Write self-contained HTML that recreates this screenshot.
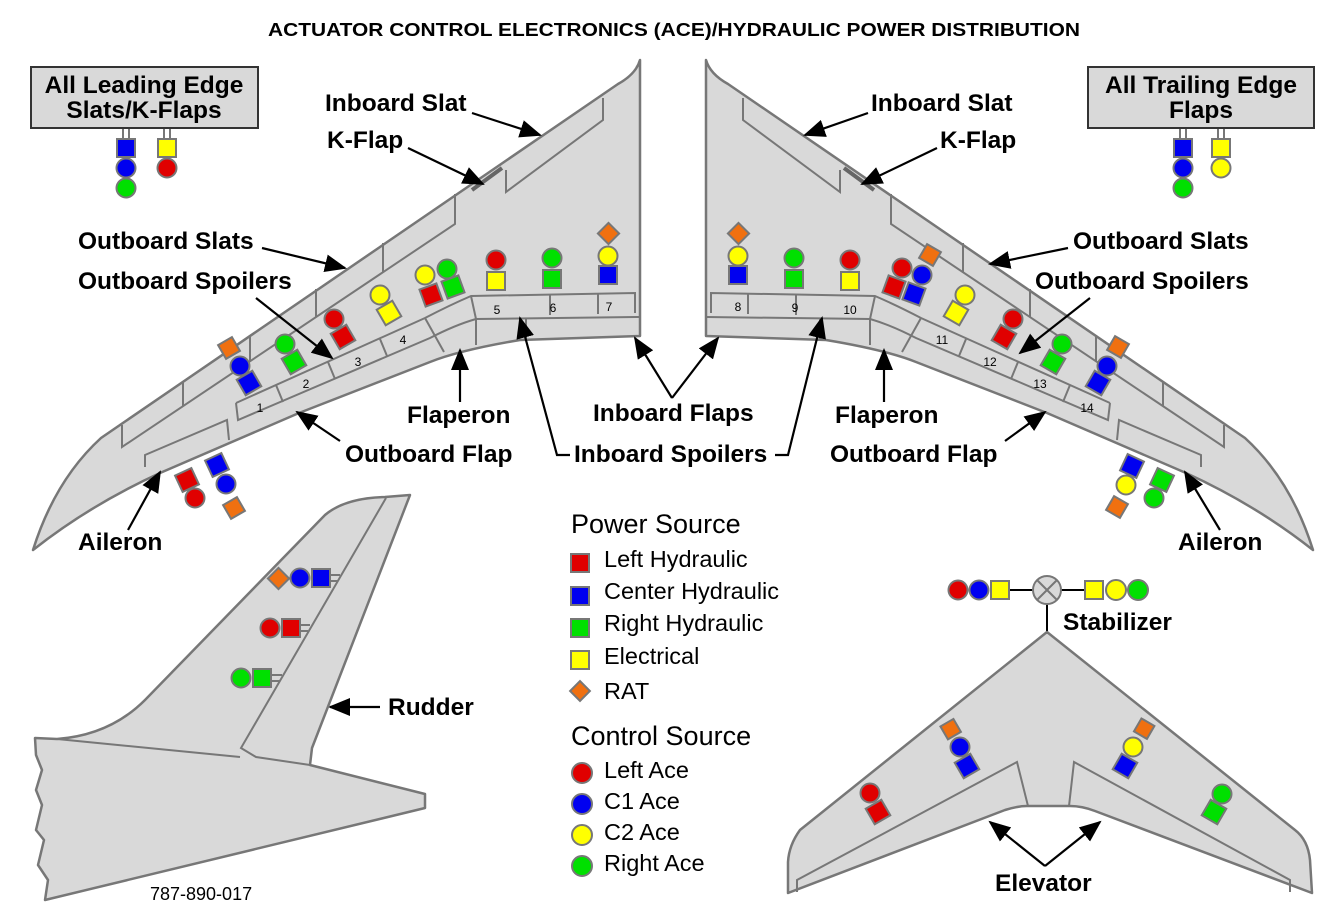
<!DOCTYPE html>
<html><head><meta charset="utf-8"><style>
html,body{margin:0;padding:0;background:#fff}
svg{display:block}
text{font-family:"Liberation Sans",Arial,sans-serif}
.b{font-weight:bold;font-size:24.5px}
.w{fill:#d9d9d9;stroke:#777;stroke-width:2.5;stroke-linejoin:round}
.l{fill:none;stroke:#777;stroke-width:2}
.s rect,.s circle{stroke:#777;stroke-width:2}
.a{stroke:#000;stroke-width:2.2;fill:none}
.n{font-size:12px}
</style></head><body>
<svg width="1334" height="915" viewBox="0 0 1334 915" xmlns="http://www.w3.org/2000/svg">
<defs>
<marker id="ah" markerWidth="22" markerHeight="18" refX="20" refY="9" orient="auto" markerUnits="userSpaceOnUse"><path d="M0,0 L22,9 L0,18 z" fill="#000"/></marker>
<g id="wing">
<path class="w" d="M640,60 Q636,74 618,84 L101,438 Q55,480 33,550 Q90,505 160,473 L299,413 L430,362 Q460,350 520,340 L640,336 Z"/>
<path class="l" d="M603,98 L603,120 L506,192 L506,170"/>
<path d="M472,190 L502,168" stroke="#666" stroke-width="4"/>
<path class="l" d="M455,194 L455,224 L122,447 L122,425"/>
<path class="l" d="M383,243 L383,272 M316,289 L316,317 M250,335 L250,361 M183,381 L183,406"/>
<path class="l" d="M236,403 L425,318 Q450,305 471,296 L635,293 L635,313"/>
<path class="l" d="M236,403 L238,420 L430,338 Q455,325 476,319 L640,317"/>
<path class="l" d="M471,296 L476,319 L476,345 M550,294 L550,315 M598,293 L598,314 M526,318 L526,340"/>
<path class="l" d="M425,318 L444,352 M276,385 L283,402 M328,362 L335,379 M380,339 L387,356"/>
<path class="l" d="M145,467 L145,455 L227,420 L229,440"/>
</g>
</defs>

<text x="268" y="36" textLength="812" lengthAdjust="spacingAndGlyphs" font-weight="bold" font-size="18">ACTUATOR CONTROL ELECTRONICS (ACE)/HYDRAULIC POWER DISTRIBUTION</text>

<use href="#wing"/>
<use href="#wing" transform="translate(1346,0) scale(-1,1)"/>

<g class="n" text-anchor="middle">
<text x="260" y="412">1</text><text x="306" y="388">2</text><text x="358" y="366">3</text><text x="403" y="344">4</text>
<text x="497" y="314">5</text><text x="553" y="312">6</text><text x="609" y="311">7</text>
<text x="738" y="311">8</text><text x="795" y="312">9</text><text x="850" y="314">10</text>
<text x="942" y="344">11</text><text x="990" y="366">12</text><text x="1040" y="388">13</text><text x="1087" y="412">14</text>
</g>

<rect x="31" y="67" width="227" height="61" fill="#d9d9d9" stroke="#333" stroke-width="2"/>
<text class="b" x="144" y="93" text-anchor="middle">All Leading Edge</text>
<text class="b" x="144" y="118" text-anchor="middle">Slats/K-Flaps</text>
<rect x="1088" y="67" width="226" height="61" fill="#d9d9d9" stroke="#333" stroke-width="2"/>
<text class="b" x="1201" y="93" text-anchor="middle">All Trailing Edge</text>
<text class="b" x="1201" y="118" text-anchor="middle">Flaps</text>
<path class="l" d="M123,129 V139 M129,129 V139 M164,129 V139 M170,129 V139 M1180,129 V139 M1186,129 V139 M1218,129 V139 M1224,129 V139" stroke-width="1.5"/>

<g class="s">
<rect x="117" y="139" width="18" height="18" fill="#0000f0"/><circle cx="126" cy="168" r="9.5" fill="#0000f0"/><circle cx="126" cy="188" r="9.5" fill="#00e000"/>
<rect x="158" y="139" width="18" height="18" fill="#ffff00"/><circle cx="167" cy="168" r="9.5" fill="#e00000"/>
<rect x="1174" y="139" width="18" height="18" fill="#0000f0"/><circle cx="1183" cy="168" r="9.5" fill="#0000f0"/><circle cx="1183" cy="188" r="9.5" fill="#00e000"/>
<rect x="1212" y="139" width="18" height="18" fill="#ffff00"/><circle cx="1221" cy="168" r="9.5" fill="#ffff00"/>

<rect x="221" y="340" width="16" height="16" fill="#f07010" transform="rotate(-30 229 348)"/>
<circle cx="240" cy="366" r="9.5" fill="#0000f0"/>
<rect x="240" y="374" width="18" height="18" fill="#0000f0" transform="rotate(-30 249 383)"/>
<circle cx="285" cy="344" r="9.5" fill="#00e000"/>
<rect x="285" y="353" width="18" height="18" fill="#00e000" transform="rotate(-30 294 362)"/>
<circle cx="334" cy="319" r="9.5" fill="#e00000"/>
<rect x="334" y="328" width="18" height="18" fill="#e00000" transform="rotate(-30 343 337)"/>
<circle cx="380" cy="295" r="9.5" fill="#ffff00"/>
<rect x="380" y="304" width="18" height="18" fill="#ffff00" transform="rotate(-30 389 313)"/>
<circle cx="425" cy="275" r="9.5" fill="#ffff00"/>
<rect x="422" y="286" width="18" height="18" fill="#e00000" transform="rotate(-20 431 295)"/>
<circle cx="447" cy="269" r="9.5" fill="#00e000"/>
<rect x="444" y="278" width="18" height="18" fill="#00e000" transform="rotate(-20 453 287)"/>
<circle cx="496" cy="260" r="9.5" fill="#e00000"/><rect x="487" y="272" width="18" height="18" fill="#ffff00"/>
<circle cx="552" cy="258" r="9.5" fill="#00e000"/><rect x="543" y="270" width="18" height="18" fill="#00e000"/>
<rect x="601" y="226" width="15" height="15" fill="#f07010" transform="rotate(45 608.5 233.5)"/>
<circle cx="608" cy="256" r="9.5" fill="#ffff00"/><rect x="599" y="266" width="18" height="18" fill="#0000f0"/>
<rect x="178" y="471" width="18" height="18" fill="#e00000" transform="rotate(-25 187 480)"/><circle cx="195" cy="498" r="9.5" fill="#e00000"/>
<rect x="208" y="456" width="18" height="18" fill="#0000f0" transform="rotate(-25 217 465)"/><circle cx="226" cy="484" r="9.5" fill="#0000f0"/>
<rect x="226" y="500" width="16" height="16" fill="#f07010" transform="rotate(-30 234 508)"/>

<rect x="731" y="226" width="15" height="15" fill="#f07010" transform="rotate(45 738.5 233.5)"/>
<circle cx="738" cy="256" r="9.5" fill="#ffff00"/><rect x="729" y="266" width="18" height="18" fill="#0000f0"/>
<circle cx="794" cy="258" r="9.5" fill="#00e000"/><rect x="785" y="270" width="18" height="18" fill="#00e000"/>
<circle cx="850" cy="260" r="9.5" fill="#e00000"/><rect x="841" y="272" width="18" height="18" fill="#ffff00"/>
<circle cx="902" cy="268" r="9.5" fill="#e00000"/>
<rect x="885" y="278" width="18" height="18" fill="#e00000" transform="rotate(20 894 287)"/>
<rect x="922" y="247" width="16" height="16" fill="#f07010" transform="rotate(30 930 255)"/>
<circle cx="922" cy="275" r="9.5" fill="#0000f0"/>
<rect x="905" y="285" width="18" height="18" fill="#0000f0" transform="rotate(20 914 294)"/>
<circle cx="965" cy="295" r="9.5" fill="#ffff00"/>
<rect x="947" y="304" width="18" height="18" fill="#ffff00" transform="rotate(30 956 313)"/>
<circle cx="1013" cy="319" r="9.5" fill="#e00000"/>
<rect x="995" y="328" width="18" height="18" fill="#e00000" transform="rotate(30 1004 337)"/>
<circle cx="1062" cy="344" r="9.5" fill="#00e000"/>
<rect x="1044" y="353" width="18" height="18" fill="#00e000" transform="rotate(30 1053 362)"/>
<rect x="1110" y="339" width="16" height="16" fill="#f07010" transform="rotate(30 1118 347)"/>
<circle cx="1107" cy="366" r="9.5" fill="#0000f0"/>
<rect x="1089" y="374" width="18" height="18" fill="#0000f0" transform="rotate(30 1098 383)"/>
<rect x="1123" y="457" width="18" height="18" fill="#0000f0" transform="rotate(25 1132 466)"/><circle cx="1126" cy="485" r="9.5" fill="#ffff00"/>
<rect x="1109" y="499" width="16" height="16" fill="#f07010" transform="rotate(30 1117 507)"/>
<rect x="1153" y="471" width="18" height="18" fill="#00e000" transform="rotate(25 1162 480)"/><circle cx="1154" cy="498" r="9.5" fill="#00e000"/>
</g>

<g class="b">
<text x="325" y="111">Inboard Slat</text>
<text x="327" y="148">K-Flap</text>
<text x="78" y="249">Outboard Slats</text>
<text x="78" y="289">Outboard Spoilers</text>
<text x="407" y="423">Flaperon</text>
<text x="345" y="462">Outboard Flap</text>
<text x="78" y="550">Aileron</text>
<text x="593" y="421">Inboard Flaps</text>
<text x="574" y="462">Inboard Spoilers</text>
<text x="871" y="111">Inboard Slat</text>
<text x="940" y="148">K-Flap</text>
<text x="1073" y="249">Outboard Slats</text>
<text x="1035" y="289">Outboard Spoilers</text>
<text x="835" y="423">Flaperon</text>
<text x="830" y="462">Outboard Flap</text>
<text x="1178" y="550">Aileron</text>
<text x="388" y="715">Rudder</text>
<text x="1063" y="630">Stabilizer</text>
<text x="995" y="891">Elevator</text>
</g>
<g class="a">
<path d="M472,113 L540,135" marker-end="url(#ah)"/>
<path d="M408,148 L483,184" marker-end="url(#ah)"/>
<path d="M262,248 L345,268" marker-end="url(#ah)"/>
<path d="M256,298 L332,358" marker-end="url(#ah)"/>
<path d="M460,402 L460,350" marker-end="url(#ah)"/>
<path d="M340,441 L297,412" marker-end="url(#ah)"/>
<path d="M128,530 L160,472" marker-end="url(#ah)"/>
<path d="M672,398 L635,338" marker-end="url(#ah)"/>
<path d="M672,398 L718,338" marker-end="url(#ah)"/>
<path d="M570,455 L557,455 L520,318" marker-end="url(#ah)"/>
<path d="M775,455 L788,455 L822,318" marker-end="url(#ah)"/>
<path d="M868,113 L805,135" marker-end="url(#ah)"/>
<path d="M937,148 L862,184" marker-end="url(#ah)"/>
<path d="M1068,248 L990,264" marker-end="url(#ah)"/>
<path d="M1090,298 L1020,353" marker-end="url(#ah)"/>
<path d="M884,402 L884,350" marker-end="url(#ah)"/>
<path d="M1005,441 L1045,412" marker-end="url(#ah)"/>
<path d="M1220,530 L1185,472" marker-end="url(#ah)"/>
<path d="M380,707 L330,707" marker-end="url(#ah)"/>
<path d="M1045,866 L990,822" marker-end="url(#ah)"/>
<path d="M1045,866 L1100,822" marker-end="url(#ah)"/>
</g>

<path class="w" d="M35,738 L57,739 Q110,735 145,700 L325,515 Q345,498 385,497 L410,495 L312,748 L310,765 L425,794 L425,808 L45,900 L48,880 L38,865 L44,840 L36,830 L42,805 L36,790 L42,770 L36,755 Z"/>
<path class="l" d="M386,498 L241,748 L256,757 L310,765"/>
<path class="l" d="M57,739 L240,757"/>
<g class="s">
<rect x="271" y="571" width="15" height="15" fill="#f07010" transform="rotate(45 278.5 578.5)"/>
<circle cx="300" cy="578" r="9.5" fill="#0000f0"/><rect x="312" y="569" width="18" height="18" fill="#0000f0"/>
<circle cx="270" cy="628" r="9.5" fill="#e00000"/><rect x="282" y="619" width="18" height="18" fill="#e00000"/>
<circle cx="241" cy="678" r="9.5" fill="#00e000"/><rect x="253" y="669" width="18" height="18" fill="#00e000"/>
</g>
<path class="l" stroke-width="1.5" d="M330,575 H340 M330,581 H338 M300,625 H310 M300,631 H308 M271,675 H282 M271,681 H280"/>
<text x="150" y="900" font-size="18">787-890-017</text>

<text x="571" y="533" font-size="27">Power Source</text>
<g class="s">
<rect x="571" y="554" width="18" height="18" fill="#e00000"/>
<rect x="571" y="587" width="18" height="18" fill="#0000f0"/>
<rect x="571" y="619" width="18" height="18" fill="#00e000"/>
<rect x="571" y="651" width="18" height="18" fill="#ffff00"/>
<rect x="573" y="684" width="14" height="14" fill="#f07010" transform="rotate(45 580 691)"/>
<circle cx="582" cy="773" r="10" fill="#e00000"/>
<circle cx="582" cy="804" r="10" fill="#0000f0"/>
<circle cx="582" cy="835" r="10" fill="#ffff00"/>
<circle cx="582" cy="866" r="10" fill="#00e000"/>
</g>
<g font-size="23.5">
<text x="604" y="567">Left Hydraulic</text>
<text x="604" y="599">Center Hydraulic</text>
<text x="604" y="631">Right Hydraulic</text>
<text x="604" y="664">Electrical</text>
<text x="604" y="699">RAT</text>
<text x="604" y="778">Left Ace</text>
<text x="604" y="809">C1 Ace</text>
<text x="604" y="840">C2 Ace</text>
<text x="604" y="871">Right Ace</text>
</g>
<text x="571" y="745" font-size="27">Control Source</text>

<path d="M1010,590 H1033 M1061,590 H1084 M1047,604 V632" stroke="#000" stroke-width="2"/>
<circle cx="1047" cy="590" r="14" fill="#d9d9d9" stroke="#777" stroke-width="2"/>
<path d="M1037,580 L1057,600 M1057,580 L1037,600" stroke="#777" stroke-width="2"/>
<g class="s">
<circle cx="958" cy="590" r="9.5" fill="#e00000"/><circle cx="979" cy="590" r="9.5" fill="#0000f0"/><rect x="991" y="581" width="18" height="18" fill="#ffff00"/>
<rect x="1085" y="581" width="18" height="18" fill="#ffff00"/><circle cx="1116" cy="590" r="10" fill="#ffff00"/><circle cx="1138" cy="590" r="10" fill="#00e000"/>
</g>
<path class="w" d="M1047,632 L800,830 Q789,845 788,862 L788,893 L1005,810 Q1018,806 1027,806 L1070,806 Q1082,806 1095,811 L1312,893 L1310,860 Q1308,840 1295,830 Z"/>
<path class="l" d="M797,892 L797,880 L1017,762 L1028,806 M1290,892 L1290,880 L1074,762 L1069,806"/>
<g class="s">
<rect x="943" y="722" width="15" height="15" fill="#f07010" transform="rotate(-30 950 729)"/>
<circle cx="960" cy="747" r="9.5" fill="#0000f0"/>
<rect x="958" y="757" width="18" height="18" fill="#0000f0" transform="rotate(-30 967 766)"/>
<circle cx="870" cy="793" r="9.5" fill="#e00000"/>
<rect x="869" y="803" width="18" height="18" fill="#e00000" transform="rotate(-30 878 812)"/>
<rect x="1137" y="721" width="15" height="15" fill="#f07010" transform="rotate(30 1144 728)"/>
<circle cx="1133" cy="747" r="9.5" fill="#ffff00"/>
<rect x="1116" y="757" width="18" height="18" fill="#0000f0" transform="rotate(30 1125 766)"/>
<circle cx="1222" cy="794" r="9.5" fill="#00e000"/>
<rect x="1205" y="803" width="18" height="18" fill="#00e000" transform="rotate(30 1214 812)"/>
</g>
</svg>
</body></html>
